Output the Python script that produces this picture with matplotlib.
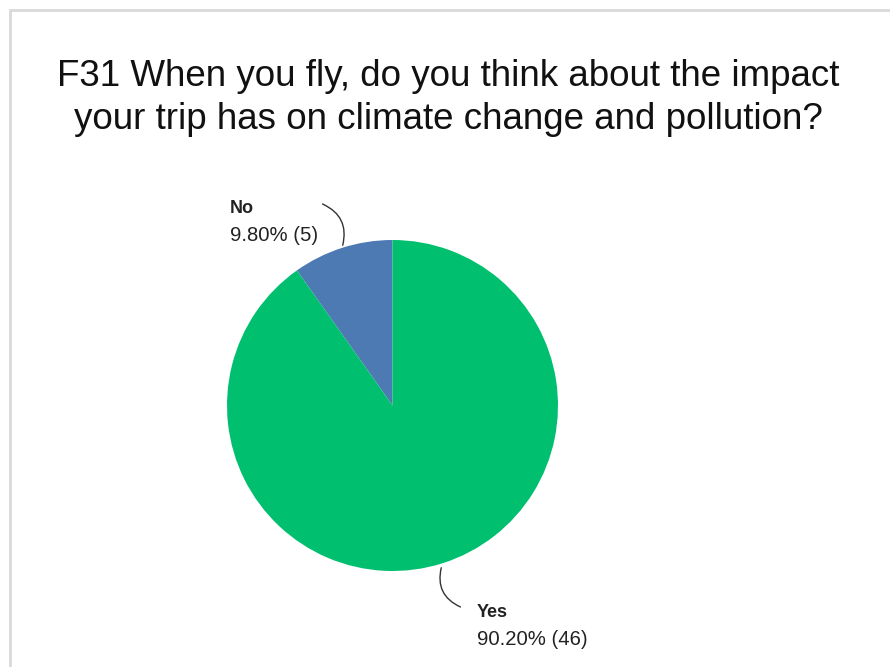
import matplotlib.pyplot as plt
from matplotlib.patches import Rectangle

# Survey answers for question F31
answers = ["No", "Yes"]
counts = [5, 46]
colors = ["#4e7ab4", "#00bf6f"]

title_lines = ["F31 When you fly, do you think about the impact",
               "your trip has on climate change and pollution?"]

W, H = 890, 667
fig = plt.figure(figsize=(W / 100, H / 100), dpi=100)
plt.rcParams["font.family"] = ["Liberation Sans", "DejaVu Sans"]

# light frame around the chart area
fig.patches.append(Rectangle((10 / W, -0.1), 1.2, 1 - 10 / H + 0.1,
                             transform=fig.transFigure, fill=False,
                             edgecolor="#d9d9d9", linewidth=2))

# two title lines, baselines at 86 px and 129 px from the top
for line, base in zip(title_lines, [86, 129]):
    fig.text(448 / W, 1 - base / H, line, ha="center", va="baseline",
             fontsize=26.5, color="#111111")

# pie placed in pixel terms: centre (392, 405), radius 165
cx, cy, r = 392.5, 405.5, 165.5
ax = fig.add_axes([(cx - r) / W, (H - cy - r) / H, 2 * r / W, 2 * r / H])
ax.pie(counts, colors=colors, startangle=90, counterclock=True,
       wedgeprops=dict(linewidth=0))
ax.set_xlim(-1, 1)
ax.set_ylim(-1, 1)
ax.set_aspect("equal")
ax.axis("off")

total = sum(counts)
label_pos = {"No": (-0.982, 1.163), "Yes": (0.511, -1.278)}
leaders = {"No": ((-0.305, 0.952), (-0.438, 1.224), -0.45),
           "Yes": ((0.299, -0.964), (0.426, -1.224), -0.45)}
for name, n in zip(answers, counts):
    x, y = label_pos[name]
    ax.text(x, y, name, fontsize=13, fontweight="bold", color="#222222",
            va="baseline", ha="left")
    ax.text(x, y - 0.17, f"{n / total * 100:.2f}% ({n})", fontsize=14.6,
            color="#222222", va="baseline", ha="left")
    start, end, rad = leaders[name]
    ax.annotate("", xy=start, xytext=end,
                arrowprops=dict(arrowstyle="-", color="#333333", lw=1,
                                connectionstyle=f"arc3,rad={rad}"),
                annotation_clip=False)

fig.savefig("out.png", dpi=100)
